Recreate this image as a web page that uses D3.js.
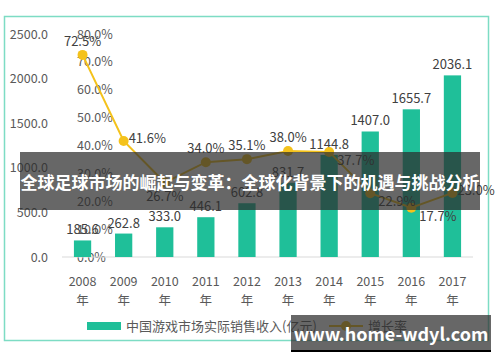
<!DOCTYPE html>
<html>
<head>
<meta charset="utf-8">
<script src="https://cdn.jsdelivr.net/npm/d3@7"></script>
<style>
  body { margin: 0; background: #fff; }
  svg { display: block; font-family: "Noto Sans CJK SC", "Noto Sans", sans-serif; }
</style>
</head>
<body>
<svg id="chart" width="500" height="362"></svg>
<script>
const years = ["2008", "2009", "2010", "2011", "2012", "2013", "2014", "2015", "2016", "2017"];
const sales = [185.6, 262.8, 333.0, 446.1, 602.8, 831.7, 1144.8, 1407.0, 1655.7, 2036.1];
const growth = [72.5, 41.6, 26.7, 34.0, 35.1, 38.0, 37.7, 22.9, 17.7, 23.0];
const leftTicks = [0, 500, 1000, 1500, 2000, 2500];
const rightTicks = [0, 10, 20, 30, 40, 50, 60, 70, 80];
const growthLabelPos = ["above", "right", "below", "above", "above", "above", "belowRight", "belowRight", "belowRight", "right"];
const barName = "中国游戏市场实际销售收入(亿元)";
const lineName = "增长率";
const title = "全球足球市场的崛起与变革：全球化背景下的机遇与挑战分析";
const watermark = "www.home-wdyl.com";

const svg = d3.select("#chart");
const teal = "#1fbf99", gold = "#f4c21b", text = "#595959";

// outer frame
svg.append("rect")
  .attr("x", 4.5).attr("y", 16.5).attr("width", 484).attr("height", 324)
  .attr("fill", "#fff").attr("stroke", "#7ddcc4").attr("stroke-width", 1.5);

const x = d3.scaleBand().domain(years).range([62, 473]).paddingInner(0.58).paddingOuter(0.29);
const y = d3.scaleLinear().domain([0, 2500]).range([257, 34]);
const y2 = d3.scaleLinear().domain([0, 80]).range([257, 34]);

// left axis labels
svg.append("g").selectAll("text").data(leftTicks).join("text")
  .attr("x", 48).attr("y", d => y(d) + 4.5)
  .attr("text-anchor", "end").attr("font-size", 12.5).attr("fill", text)
  .text(d => d3.format(".1f")(d));

// right axis labels (drawn inside on the left)
svg.append("g").selectAll("text").data(rightTicks).join("text")
  .attr("x", 77).attr("y", d => y2(d) + 4.5)
  .attr("font-size", 12.5).attr("fill", text)
  .text(d => d3.format(".1f")(d) + "%");

// baseline
svg.append("line").attr("x1", 62).attr("x2", 473).attr("y1", y(0)).attr("y2", y(0))
  .attr("stroke", "#d9d9d9").attr("stroke-width", 1);

// bars
svg.append("g").selectAll("rect").data(sales).join("rect")
  .attr("x", (d, i) => x(years[i])).attr("width", x.bandwidth())
  .attr("y", d => y(d)).attr("height", d => y(0) - y(d))
  .attr("fill", teal);

svg.append("g").selectAll("text").data(sales).join("text")
  .attr("x", (d, i) => x(years[i]) + x.bandwidth() / 2).attr("y", d => y(d) - 6)
  .attr("text-anchor", "middle").attr("font-size", 13).attr("fill", "#404040")
  .text(d => d3.format(".1f")(d));

// line
const cx = i => x(years[i]) + x.bandwidth() / 2;
svg.append("path").datum(growth)
  .attr("d", d3.line().x((d, i) => cx(i)).y(d => y2(d)))
  .attr("fill", "none").attr("stroke", gold).attr("stroke-width", 2);

svg.append("g").selectAll("circle").data(growth).join("circle")
  .attr("cx", (d, i) => cx(i)).attr("cy", d => y2(d)).attr("r", 5).attr("fill", gold);

const off = {
  above: [0, -9, "middle"], right: [5, 2, "start"], below: [0, 18, "middle"],
  belowRight: [8, 13, "start"]
};
svg.append("g").selectAll("text").data(growth).join("text")
  .attr("x", (d, i) => cx(i) + off[growthLabelPos[i]][0])
  .attr("y", (d, i) => y2(d) + off[growthLabelPos[i]][1])
  .attr("text-anchor", (d, i) => off[growthLabelPos[i]][2])
  .attr("font-size", 13).attr("fill", "#404040")
  .text(d => d3.format(".1f")(d) + "%");

// x labels
const xl = svg.append("g").selectAll("g").data(years).join("g")
  .attr("transform", d => `translate(${x(d) + x.bandwidth() / 2},0)`);
xl.append("text").attr("y", 286).attr("text-anchor", "middle")
  .attr("font-size", 12.5).attr("fill", text).text(d => d);
xl.append("text").attr("y", 305).attr("text-anchor", "middle")
  .attr("font-size", 12.5).attr("fill", text).text("年");

// legend
svg.append("rect").attr("x", 87).attr("y", 322).attr("width", 34).attr("height", 8).attr("fill", teal);
svg.append("text").attr("x", 126).attr("y", 331).attr("font-size", 13).attr("fill", text).text(barName);
svg.append("line").attr("x1", 329).attr("x2", 363).attr("y1", 326).attr("y2", 326)
  .attr("stroke", gold).attr("stroke-width", 2);
svg.append("circle").attr("cx", 346).attr("cy", 326).attr("r", 5).attr("fill", gold);
svg.append("text").attr("x", 368).attr("y", 331).attr("font-size", 13).attr("fill", text).text(lineName);

// title banner
svg.append("rect").attr("x", 20).attr("y", 152).attr("width", 460).attr("height", 58)
  .attr("fill", "rgba(45,45,45,0.72)");
svg.append("text").attr("x", 250).attr("y", 189).attr("text-anchor", "middle")
  .attr("font-size", 17).attr("font-weight", "bold").attr("fill", "#fff").text(title);

// watermark
svg.append("rect").attr("x", 291).attr("y", 315).attr("width", 200).attr("height", 36)
  .attr("fill", "rgba(45,45,45,0.72)");
svg.append("line").attr("x1", 291).attr("x2", 491).attr("y1", 351).attr("y2", 351)
  .attr("stroke", "#000").attr("stroke-width", 2);
svg.append("text").attr("x", 391).attr("y", 341).attr("text-anchor", "middle")
  .attr("font-size", 18).attr("font-weight", "bold").attr("fill", "#fff").text(watermark);
</script>
</body>
</html>
